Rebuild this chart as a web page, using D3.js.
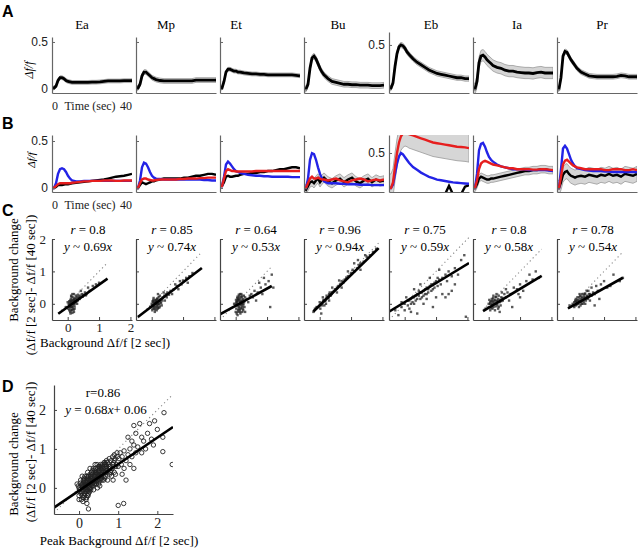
<!DOCTYPE html>
<html>
<head>
<meta charset="utf-8">
<script src="https://cdn.jsdelivr.net/npm/d3@7"></script>
<style>
  body { margin: 0; background: #fff; }
</style>
</head>
<body>
<div id="chart"></div>
<script>
/***********************/
/*    Data (read off)  */
/***********************/
const names = ["Ea", "Mp", "Et", "Bu", "Eb", "Ia", "Pr"];
const times = [0,1,2,3,4,5,6,7,8,9,10,12,14,16,18,20,22,24,26,28,30,32,34,36,38,40];

// Panel A: mean response per group, and its SEM
const aEa = [0.01,0.01,0.03,0.09,0.12,0.12,0.11,0.09,0.08,0.075,0.07,0.07,0.07,0.07,0.07,0.072,0.072,0.075,0.08,0.085,0.085,0.085,0.085,0.088,0.088,0.088];
const aMp = [0.01,0.01,0.05,0.14,0.18,0.18,0.16,0.14,0.12,0.11,0.1,0.09,0.085,0.085,0.085,0.085,0.085,0.085,0.085,0.085,0.095,0.095,0.095,0.095,0.095,0.095];
const aEt = [0.01,0.01,0.08,0.18,0.21,0.21,0.2,0.19,0.19,0.18,0.18,0.17,0.165,0.16,0.16,0.155,0.155,0.15,0.15,0.15,0.15,0.15,0.15,0.15,0.145,0.14];
const aBu = [0,0,0.05,0.22,0.33,0.35,0.32,0.27,0.22,0.18,0.15,0.11,0.08,0.07,0.06,0.05,0.05,0.045,0.045,0.04,0.04,0.04,0.035,0.035,0.035,0.04];
const aEb = [0,0,0.06,0.25,0.4,0.48,0.5,0.49,0.46,0.42,0.39,0.34,0.3,0.27,0.24,0.21,0.19,0.17,0.16,0.15,0.14,0.13,0.12,0.12,0.11,0.11];
const aIa = [0,0,0.08,0.28,0.35,0.36,0.34,0.31,0.29,0.27,0.25,0.23,0.22,0.2,0.19,0.19,0.18,0.175,0.17,0.17,0.165,0.175,0.18,0.17,0.17,0.17];
const aPr = [0,0,0.12,0.35,0.4,0.39,0.35,0.31,0.28,0.25,0.22,0.18,0.16,0.14,0.135,0.13,0.13,0.13,0.13,0.13,0.135,0.145,0.14,0.13,0.13,0.13];
const aSem = [0.02,0.025,0.02,0.03,0.03,0.06,0.025];

// Panel B: blue, red and black traces per group
const bBlue = [
  [0,0,0.05,0.15,0.2,0.21,0.2,0.17,0.13,0.1,0.08,0.07,0.07,0.075,0.075,0.075,0.075,0.075,0.075,0.075,0.075,0.075,0.075,0.075,0.075,0.075],
  [0,0,0.08,0.22,0.27,0.26,0.22,0.17,0.13,0.11,0.1,0.095,0.09,0.09,0.09,0.09,0.09,0.09,0.09,0.09,0.09,0.09,0.085,0.085,0.08,0.08],
  [0.02,0.02,0.12,0.25,0.28,0.26,0.23,0.2,0.18,0.17,0.16,0.15,0.14,0.135,0.13,0.13,0.125,0.125,0.12,0.12,0.12,0.12,0.12,0.115,0.115,0.115],
  [0,0,0.1,0.3,0.37,0.36,0.3,0.22,0.15,0.1,0.07,0.05,0.05,0.05,0.045,0.045,0.04,0.04,0.04,0.035,0.035,0.035,0.03,0.03,0.03,0.03],
  [0,0,0.05,0.2,0.35,0.45,0.5,0.48,0.44,0.4,0.36,0.3,0.26,0.22,0.19,0.16,0.14,0.12,0.11,0.1,0.09,0.08,0.075,0.07,0.065,0.06],
  [0,0,0.15,0.4,0.47,0.48,0.44,0.38,0.33,0.3,0.28,0.25,0.23,0.22,0.21,0.2,0.2,0.2,0.195,0.19,0.19,0.19,0.19,0.19,0.185,0.18],
  [0,0,0.2,0.42,0.45,0.42,0.36,0.3,0.26,0.23,0.21,0.2,0.19,0.185,0.18,0.18,0.18,0.175,0.175,0.17,0.17,0.17,0.17,0.17,0.17,0.17]
];
const bRed = [
  [0,0,0.02,0.04,0.05,0.05,0.05,0.05,0.05,0.05,0.055,0.06,0.065,0.07,0.07,0.075,0.075,0.075,0.08,0.08,0.08,0.075,0.075,0.08,0.08,0.08],
  [0,0,0.05,0.09,0.1,0.1,0.09,0.085,0.08,0.08,0.085,0.09,0.09,0.09,0.09,0.09,0.095,0.095,0.1,0.1,0.1,0.105,0.105,0.11,0.11,0.11],
  [0.02,0.02,0.1,0.18,0.2,0.19,0.18,0.18,0.175,0.175,0.175,0.175,0.175,0.175,0.18,0.18,0.18,0.18,0.18,0.18,0.18,0.18,0.18,0.18,0.18,0.18],
  [0,0,0.05,0.1,0.12,0.1,0.1,0.11,0.1,0.09,0.09,0.08,0.09,0.1,0.08,0.07,0.06,0.08,0.09,0.1,0.09,0.07,0.08,0.09,0.08,0.09],
  [0,0,0.08,0.3,0.5,0.65,0.74,0.78,0.8,0.79,0.77,0.75,0.73,0.71,0.69,0.67,0.65,0.64,0.63,0.62,0.61,0.6,0.59,0.585,0.58,0.57],
  [0,0,0.08,0.2,0.26,0.28,0.29,0.28,0.27,0.26,0.25,0.24,0.23,0.22,0.21,0.21,0.2,0.2,0.2,0.2,0.195,0.195,0.2,0.2,0.195,0.19],
  [0,0,0.12,0.25,0.29,0.3,0.28,0.26,0.24,0.23,0.22,0.21,0.2,0.2,0.2,0.2,0.2,0.19,0.19,0.2,0.2,0.2,0.19,0.19,0.2,0.19]
];
const bBlack = [
  [0,0,0.01,0.03,0.03,0.03,0.035,0.04,0.04,0.045,0.05,0.055,0.06,0.065,0.07,0.075,0.08,0.085,0.09,0.1,0.11,0.12,0.125,0.13,0.14,0.15],
  [0,0,0.03,0.06,0.05,0.04,0.05,0.06,0.07,0.07,0.08,0.09,0.1,0.1,0.1,0.1,0.1,0.11,0.11,0.12,0.13,0.13,0.14,0.15,0.15,0.14],
  [0.02,0.02,0.06,0.12,0.13,0.12,0.12,0.125,0.13,0.13,0.14,0.15,0.15,0.16,0.16,0.17,0.17,0.18,0.18,0.19,0.2,0.2,0.21,0.22,0.22,0.21],
  [0,-0.02,0.02,0.06,0.07,0.05,0.08,0.1,0.06,0.09,0.11,0.07,0.05,0.08,0.1,0.06,0.09,0.11,0.07,0.05,0.08,0.1,0.06,0.09,0.07,0.08],
  [-0.09,-0.09,-0.09,-0.09,-0.09,-0.09,-0.09,-0.09,-0.09,-0.09,-0.09,-0.09,-0.09,-0.09,-0.09,-0.09,-0.09,-0.09,-0.09,-0.09,0.03,-0.09,-0.09,-0.09,0.02,0.04],
  [0,0,0.04,0.1,0.12,0.11,0.1,0.09,0.09,0.1,0.1,0.11,0.12,0.13,0.14,0.15,0.16,0.17,0.18,0.18,0.19,0.19,0.2,0.2,0.19,0.19],
  [0,0,0.06,0.14,0.17,0.18,0.15,0.13,0.12,0.11,0.12,0.13,0.12,0.14,0.13,0.12,0.14,0.13,0.15,0.13,0.14,0.12,0.15,0.14,0.13,0.15]
];
// grey SEM bands in B: which trace, and its SEM
const bBandTrace = ["", "", "", "black", "red", "black", "black"];
const bBandSem = [0, 0, 0, 0.05, 0.2, 0.04, 0.08];

// Panel C: background vs background change, per group
const cEa = [[0.05,-0.05],[0.1,0],[0.12,0.08],[0.15,-0.1],[0.18,0.05],[0.2,0.12],[0.08,0.1],[0.02,-0.15],[0.25,0.1],[0.22,0],[0.3,0.2],[0.28,0.15],[0.14,-0.2],[0.1,0.15],[0.06,0.02],[0.35,0.22],[0.4,0.25],[0.18,-0.05],[0.16,0.2],[0.12,-0.08],[0.24,0.05],[0.32,0.1],[0.45,0.3],[0.5,0.28],[0.55,0.35],[0.6,0.3],[0.2,-0.25],[0.1,-0.2],[0,0.05],[-0.05,-0.1],[0.26,0.25],[0.38,0.15],[0.7,0.4],[0.8,0.55],[0.9,0.6],[1,0.65],[0.15,0.3],[0.3,0],[0.42,0.4],[0.2,0.3],[0.08,-0.12],[0.12,0.22],[0.22,-0.15],[0.65,0.5],[0.05,0.08],
  [0.05,-0.2],[0.08,-0.25],[0.1,0.05],[0.12,-0.1],[0.14,0.1],[0.16,-0.15],[0.18,0],[0.2,0.08],[0.22,-0.08],[0.24,0.18],[0.06,-0.08],[0.09,-0.3],[0.13,0.02],[0.17,0.12],[0.19,-0.18],[0.11,0.25],[0.15,-0.28],[0.21,0.15],[0.27,0.05],[0.04,0],[0.33,0.28],[0.36,0.18],[0.48,0.22],[0.58,0.26]];
const cMp = [[0,0],[0.05,-0.05],[0.1,0.05],[0.15,0.1],[0.2,0],[0.08,-0.15],[0.12,0.12],[0.18,-0.08],[0.25,0.08],[0.3,0.15],[0.22,0.2],[0.03,0.08],[-0.05,-0.1],[0.35,0.2],[0.4,0.25],[0.28,0.05],[0.16,-0.2],[0.45,0.3],[0.5,0.35],[0.55,0.28],[0.6,0.4],[0.7,0.45],[0.8,0.55],[0.75,0.6],[0.9,0.7],[1,0.72],[1.1,0.8],[1.2,0.85],[1.3,0.95],[0.65,0.3],[0.1,-0.25],[0.2,0.3],[0.32,-0.05],[0.06,0.18],[0.14,0],[0.24,-0.12],[0.42,0.1],[0.85,0.45],[0.95,0.6],[0.38,0.35],[0.02,-0.2],[0.18,0.16],[0.26,0.25],[0.48,0.2],[1.15,0.65],
  [0.02,-0.05],[0.04,0.05],[0.06,-0.1],[0.08,0.02],[0.1,-0.08],[0.12,0],[0.14,0.08],[0.16,-0.05],[0.18,0.05],[0.2,-0.12],[0.22,0.1],[0.24,0],[0.26,-0.08],[0.05,0.12],[0.11,-0.18],[0.17,0.15],[0.21,-0.02],[0.27,0.12],[0.03,-0.15],[0.13,-0.12],[0.09,0.1],[0.19,-0.15],[0.3,0.02],[0.34,0.1]];
const cEt = [[0,0],[0.05,0.1],[0.1,-0.1],[0.15,0.05],[0.2,0.2],[0.08,-0.2],[0.12,0.15],[0.18,-0.05],[0.22,0],[0.25,0.1],[0.02,-0.15],[0.06,0.22],[0.14,-0.25],[0.28,-0.1],[0.3,0.2],[0.1,0.28],[0.04,0.05],[0.16,-0.15],[0.2,0.1],[0.24,-0.2],[0.12,0],[0.08,0.12],[0.35,0.15],[0.4,0.05],[0.45,0.25],[0.5,0.3],[0.55,0.2],[0.6,0.4],[0.7,0.35],[0.8,0.5],[0.85,0.3],[0.95,0.6],[1.05,0.7],[1.15,0.9],[1.2,0.5],[0.9,0.8],[1.1,-0.1],[0.65,0.1],[0.3,-0.25],[0.18,0.3],[-0.05,0],[0,-0.25],[0.26,0.25],[0.16,0.2],[0.75,0.65],
  [0.02,0.05],[0.04,-0.05],[0.06,0],[0.08,0.15],[0.1,-0.15],[0.12,0.08],[0.14,-0.02],[0.16,0.1],[0.18,-0.12],[0.2,0.02],[0.22,-0.08],[0.24,0.15],[0.03,-0.3],[0.07,-0.25],[0.11,0.22],[0.15,-0.3],[0.19,0.25],[0.23,-0.15],[0.05,0.18],[0.09,-0.05],[0.13,-0.2],[0.17,0],[0.21,-0.25],[0.01,0.12],[0.25,-0.02],[0.27,0.05],[0.06,-0.35],[0.14,0.3]];
const cBu = [[-0.2,-0.25],[-0.1,-0.1],[0,-0.05],[0.05,0],[0.1,0.05],[0.15,0.1],[0.2,0.15],[0.25,0.2],[0.3,0.3],[0.35,0.25],[0.4,0.35],[0.45,0.4],[0.5,0.45],[0.55,0.5],[0.6,0.55],[0.65,0.6],[0.7,0.7],[0.75,0.65],[0.8,0.75],[0.85,0.8],[0.9,0.85],[1,0.95],[1.05,1.05],[1.1,1],[1.2,1.1],[1.25,1.2],[1.3,1.25],[1.4,1.3],[1.5,1.45],[1.6,1.5],[1.7,1.6],[1.8,1.7],[0.1,0.2],[0.2,0],[0.3,0.1],[0.4,0.5],[0.55,0.35],[0.7,0.5],[0.9,1],[1.1,1.25],[1.3,1.05],[1.45,1.5],[0.05,-0.3],[0.62,0.72],[1.22,1.35],
  [-0.15,-0.15],[-0.05,-0.1],[0,0.05],[0.08,-0.05],[0.12,0.12],[0.18,0.08],[0.22,0.25],[0.28,0.18],[0.32,0.35],[0.38,0.3],[0.02,-0.15],[0.15,-0.05]];
const cEb = [[-0.3,-0.2],[-0.2,-0.35],[-0.1,-0.1],[0,0],[0.1,-0.05],[0.15,0.1],[0.2,0.15],[0.25,0.05],[0.3,0.2],[0.35,0.1],[0.4,0.3],[0.45,0.25],[0.5,0.35],[0.55,0.2],[0.6,0.4],[0.65,0.3],[0.7,0.5],[0.75,0.45],[0.8,0.55],[0.85,0.4],[0.9,0.6],[0.95,0.5],[1,0.7],[1.05,0.55],[1.1,0.75],[1.15,0.6],[1.2,0.8],[1.3,0.9],[1.35,0.7],[1.4,1],[1.5,0.85],[1.6,1.1],[1.7,0.9],[1.8,1.35],[1.9,1.5],[1.2,0.3],[1.3,0.2],[0.9,-0.1],[0.4,-0.3],[0.2,-0.25],[0.6,0],[0.5,0.6],[0.8,0.8],[1,0.2],[1.5,0.4],[1.4,0.3],[0.3,0.45],[0.7,0.15],[1.6,0.6],[1.95,-0.4],[1.1,1.05],[0.05,0.2],
  [0.1,0.1],[0.2,0],[0.25,0.2],[0.35,0.25],[0.4,0.15],[0.45,0.4],[0.55,0.35],[0.6,0.25],[0.65,0.45],[0.75,0.35],[0.85,0.6],[0.95,0.65],[1.05,0.8],[0.3,0],[0.15,-0.15],[0.5,0.15],[0.7,0.3],[0.9,0.45],[-0.1,0.05],[0,-0.2]];
const cIa = [[0,-0.1],[0.05,0],[0.1,-0.05],[0.15,0.05],[0.2,0.1],[0.25,0],[0.3,0.15],[0.35,0.05],[0.4,0.2],[0.1,0.15],[0.2,-0.2],[0.3,-0.15],[0.05,-0.2],[0.15,0.25],[0.25,0.3],[0.45,0.1],[0.5,0.3],[0.55,0.2],[0.6,0.35],[0.7,0.3],[0.8,0.5],[0.9,0.45],[1,0.6],[1.1,0.4],[1.2,0.7],[1.3,0.9],[1.4,0.75],[1.5,1],[1.6,0.8],[0.35,-0.25],[0.18,0],[0.08,0.08],[0.28,0.08],[0.12,-0.15],[0.42,0.35],[0.65,0.1],[0.75,-0.1],[0.22,0.2],[-0.1,-0.15],[0.38,-0.05],[1,0.2],[0.55,0.45],[0.95,0.3],[0.32,0.25],[0.02,0.12],
  [0.05,0.05],[0.1,0],[0.12,0.08],[0.15,-0.1],[0.18,0.12],[0.2,0],[0.22,-0.08],[0.25,0.1],[0.28,-0.05],[0.3,0.05],[0.08,-0.12],[0.14,0.18],[0.24,0.22],[0.32,-0.1],[0.36,0.12],[0.4,0.08],[0.44,0.18],[0,0]];
const cPr = [[-0.1,-0.05],[0,0],[0.05,0.05],[0.1,-0.05],[0.15,0.1],[0.2,0.05],[0.25,0.15],[0.3,0.1],[0.35,0.2],[0.4,0.15],[0.45,0.25],[0.5,0.2],[0.55,0.3],[0.6,0.25],[0.65,0.35],[0.7,0.3],[0.1,0.15],[0.2,-0.1],[0.3,0.3],[0.4,0],[0.5,0.4],[0.15,0.2],[0.25,-0.05],[0.35,0.05],[0.45,0.4],[0.08,0.1],[0.18,0],[0.28,0.22],[0.38,0.3],[0.6,0.5],[0.75,0.55],[0.8,0.4],[0.9,0.6],[1,0.7],[1.1,0.5],[1.2,0.55],[1.3,0.9],[1.5,0.7],[1.6,0.8],[0.7,-0.05],[0.85,0.15],[0.05,-0.1],[0.22,0.3],[0.32,0],[0.55,0.1],
  [0.12,0.05],[0.18,0.12],[0.22,0.08],[0.26,0.05],[0.3,0.18],[0.34,0.12],[0.38,0.2],[0.42,0.1],[0.46,0.22],[0.2,0.2],[0.28,0],[0.14,-0.02],[0.36,0.28],[0.24,0.25],[0.4,0.32],[0.48,0.15],[0.52,0.3],[0.1,0.08]];
const cR = ["0.8", "0.85", "0.64", "0.96", "0.75", "0.8", "0.78"];
const cSlope = [0.69, 0.74, 0.53, 0.94, 0.59, 0.58, 0.54];
const cIntercept = [-0.1, -0.08, -0.06, -0.05, 0.05, -0.12, -0.06];
const cFitRange = [[-0.3,1.27],[-0.44,1.6],[-0.5,1.15],[-0.2,1.88],[-0.5,2.05],[-0.18,1.69],[-0.15,1.6]];

// Panel D: all groups pooled
const dPoints = [
  [0,0],[0.02,-0.1],[0.05,0.05],[0.08,-0.2],[0.1,0.1],[0.12,-0.05],[0.15,0],[0.18,0.15],[0.2,-0.1],[0.22,0.05],
  [0.25,0.2],[0.28,-0.02],[0.3,0.1],[0,-0.2],[0.03,0.12],[0.06,-0.3],[0.09,0],[0.11,0.2],[0.14,-0.15],[0.16,0.08],
  [0.19,-0.25],[0.21,0.25],[0.24,-0.08],[0.27,0.15],[0.29,0.3],[-0.02,0.05],[0.01,-0.05],[0.04,0.2],[0.07,0.08],[0.13,0.25],
  [0.17,-0.05],[0.23,-0.2],[0.26,0],[0.1,-0.35],[0.2,-0.4],[0.15,0.3],[0.05,-0.15],[0.12,0.15],[0.18,-0.3],[0.25,0.1],
  [0.3,0.25],[0.32,0.4],[0.35,0.15],[0.38,0.3],[0.4,0.45],[0.42,0.2],[0.45,0.35],[0.48,0.5],[0.5,0.3],[0.52,0.45],
  [0.55,0.6],[0.58,0.35],[0.6,0.5],[0.33,0.05],[0.36,0.5],[0.39,0.1],[0.41,0.6],[0.44,0.25],[0.47,0],[0.49,0.4],
  [0.51,0.15],[0.54,0.3],[0.57,0.55],[0.59,0.2],[0.34,0.35],[0.37,-0.05],[0.43,0.4],[0.46,0.6],[0.53,0.05],[0.56,0.4],
  [0.31,0.2],[0.4,0.3],[0.45,0.15],[0.5,0.55],[0.55,0.25],[0.35,0.45],[0.62,0.4],[0.65,0.6],[0.68,0.5],[0.7,0.7],
  [0.72,0.45],[0.75,0.6],[0.78,0.35],[0.8,0.55],[0.82,0.7],[0.85,0.5],[0.88,0.65],[0.9,0.4],[0.92,0.75],[0.95,0.6],
  [0.98,0.8],[1,0.55],[0.63,0.2],[0.67,0.3],[0.73,0.2],[0.77,0.75],[0.83,0.3],[0.87,0.2],[0.93,0.35],[0.97,0.9],
  [0.7,0.55],[0.8,0.4],[0.9,0.85],[0.66,0.65],[0.76,0.5],[0.86,0.8],[1.02,0.75],[1.05,0.9],[1.08,0.6],[1.1,0.8],
  [1.15,0.95],[1.2,0.7],[1.25,0.85],[1.3,1],[1.35,0.8],[1.4,1.1],[1.45,0.9],[1.5,1.05],[1.1,0.35],[1.2,0.2],
  [1.3,0.6],[1.4,0.5],[1,-0.45],[1.14,-0.4],[1.4,1.6],[1.45,1.4],[1.55,1.65],[1.6,1.3],[1.25,1.3],[1.15,0.5],
  [1.35,1.2],[1.65,1.2],[1.7,1],[1.75,1.4],[1.8,1.65],[1.85,1.25],[1.93,1.72],[2,1.5],[2.14,1.3],[2.17,1.93],
  [2.14,0.93],[2.38,0.6],[1.9,1.1],[1.6,0.9],[0.24,-0.54],[0,-0.3],[-0.05,0.1],[0.08,0.3],[0.22,0.4],[0.28,0.5],
  [0.15,0.05],[0.18,0.2],[0.2,0.1],[0.22,-0.05],[0.24,0.3],[0.26,0.12],[0.28,0.2],[0.3,0],[0.32,0.15],[0.34,0.25],
  [0.36,0.05],[0.38,0.4],[0.4,0.2],[0.42,0.35],[0.44,0.1],[0.46,0.3],[0.48,0.2],[0.5,0.45],[0.52,0.3],[0.54,0.5],
  [0.56,0.35],[0.58,0.45],[0.6,0.6],[0.62,0.3],[0.64,0.5],[0.66,0.4],[0.68,0.6],[0.7,0.45],[0.72,0.65],[0.74,0.4],
  [0.1,-0.1],[0.12,0.05],[0.14,-0.2],[0.16,0.15],[0.18,-0.1],[0.2,0.3],[0.22,0.15],[0.24,-0.15],[0.26,0.05],[0.28,0.35],
  [0.3,-0.05],[0.32,0.3],[0.34,0.1],[0.36,0.2],[0.38,0.15],[0.4,0.1],[0.42,0.5],[0.44,0.4],[0.46,0.2],[0.48,0.35],
  [0.5,0.1],[0.52,0.55],[0.54,0.2],[0.56,0.5],[0.58,0.25],[0.6,0.35],[0.62,0.55],[0.64,0.65],[0.66,0.25],[0.68,0.4],
  [0.08,0.05],[0.06,-0.1],[0.11,-0.25],[0.13,0.2],[0.17,0],[0.19,0.08],[0.21,-0.2],[0.23,0.22],[0.25,0],[0.27,-0.1],
  [0.78,0.55],[0.82,0.45],[0.86,0.6],[0.9,0.7],[0.94,0.55]
];
const dR = "0.86";
const dSlope = 0.68;
const dIntercept = -0.07;

/****************************/
/*    Layout and styles     */
/****************************/
const width = 640, height = 550;
const colLeft = [52, 136, 220, 304, 389, 473, 557];
const colW = 80;
const titleX = [82, 166, 236, 338, 431, 517, 602];
const serif = "'Liberation Serif', 'Times New Roman', serif";
const sans = "'Liberation Sans', Arial, sans-serif";
const axisGrey = "#666";
const blue = "#2323e6", red = "#e61e1e";

const svg = d3.select("#chart")
  .append("svg")
    .attr("width", width)
    .attr("height", height)
    .style("background", "#fff");

const defs = svg.append("defs");
let clipCount = 0;
const addClip = (x, y, w, h) => {
  const id = "clip" + (clipCount++);
  defs.append("clipPath").attr("id", id)
    .append("rect").attr("x", x).attr("y", y).attr("width", w).attr("height", h);
  return `url(#${id})`;
};

const styleAxis = (g, color, font, size) => {
  g.select(".domain").attr("stroke", color).attr("stroke-width", 1.2);
  g.selectAll(".tick line").attr("stroke", color);
  g.selectAll(".tick text").attr("fill", "#222").style("font-family", font).style("font-size", size + "px");
};

// panel letters
[["A", 17], ["B", 129], ["C", 216], ["D", 392]].forEach(([t, y]) => {
  svg.append("text").text(t)
    .attr("x", 2).attr("y", y)
    .style("font-family", sans).style("font-weight", "bold").style("font-size", "16px");
});

const timeLabel = (x, y) => {
  const g = svg.append("g").style("font-family", serif).style("font-size", "12px").attr("fill", "#222");
  g.append("text").text("0").attr("x", x(0) + 3).attr("y", y).attr("text-anchor", "middle");
  g.append("text").text("Time (sec)").attr("x", x(20) - 2).attr("y", y).attr("text-anchor", "middle");
  g.append("text").text("40").attr("x", x(40) - 6).attr("y", y).attr("text-anchor", "middle");
};

/*************************/
/*    Panel A            */
/*************************/
const aMeans = [aEa, aMp, aEt, aBu, aEb, aIa, aPr];

names.forEach((name, i) => {
  const left = colLeft[i];
  const top = i === 4 ? 32 : 37, bottom = 93;
  const x = d3.scaleLinear().domain([0, 40]).range([left, left + colW]);
  const y = d3.scaleLinear().domain(i === 4 ? [-0.057, 0.65] : [-0.043, 0.553]).range([bottom, top]);
  const g = svg.append("g");
  const plot = g.append("g").attr("clip-path", addClip(left, top, colW, bottom - top));
  const mean = aMeans[i];

  const band = d3.area()
    .x((d, k) => x(times[k]))
    .y0(d => y(d - aSem[i]))
    .y1(d => y(d + aSem[i]));
  plot.append("path").datum(mean)
    .attr("d", band).attr("fill", "#d4d4d4").attr("stroke", "#9a9a9a").attr("stroke-width", 0.8);
  plot.append("path").datum(mean)
    .attr("d", d3.line().x((d, k) => x(times[k])).y(d => y(d)))
    .attr("fill", "none").attr("stroke", "#000").attr("stroke-width", 2.8);

  const showLabels = i === 0 || i === 4;
  g.append("g").attr("transform", `translate(${left},0)`)
    .call(d3.axisLeft(y).tickValues(i === 4 ? [0.5] : [0, 0.5]).tickSize(-3).tickSizeOuter(0).tickPadding(4)
      .tickFormat(d => showLabels ? d3.format("")(d) : ""))
    .call(a => styleAxis(a, axisGrey, sans, 12));
  g.append("g").attr("transform", `translate(0,${bottom})`)
    .call(d3.axisBottom(x).tickValues([]).tickSizeOuter(0))
    .call(a => styleAxis(a, axisGrey, sans, 12));

  svg.append("text").text(name)
    .attr("x", titleX[i]).attr("y", 29).attr("text-anchor", "middle")
    .style("font-family", serif).style("font-size", "13px");

  if (i === 0) timeLabel(x, 110);
});

svg.append("text").text("Δf/f")
  .attr("transform", "translate(33,70) rotate(-90)").attr("text-anchor", "middle")
  .style("font-family", serif).style("font-style", "italic").style("font-size", "12px");

/*************************/
/*    Panel B            */
/*************************/
names.forEach((name, i) => {
  const left = colLeft[i];
  const top = 135, bottom = 192;
  const x = d3.scaleLinear().domain([0, 40]).range([left, left + colW]);
  const y = d3.scaleLinear().domain(i === 4 ? [-0.057, 0.757] : [-0.043, 0.564]).range([bottom, top]);
  const g = svg.append("g");
  const plot = g.append("g").attr("clip-path", addClip(left, top, colW, bottom - top));
  const traces = { blue: bBlue[i], red: bRed[i], black: bBlack[i] };

  if (bBandTrace[i]) {
    const sem = bBandSem[i];
    plot.append("path").datum(traces[bBandTrace[i]])
      .attr("d", d3.area().x((d, k) => x(times[k])).y0(d => y(d - sem)).y1(d => y(d + sem)))
      .attr("fill", "#d6d6d6").attr("stroke", "#999").attr("stroke-width", 0.8);
  }
  const line = d3.line().x((d, k) => x(times[k])).y(d => y(d));
  [["black", "#000"], ["blue", blue], ["red", red]].forEach(([key, color]) => {
    plot.append("path").datum(traces[key])
      .attr("d", line).attr("fill", "none").attr("stroke", color).attr("stroke-width", 2.4);
  });

  const showLabels = i === 0 || i === 4;
  g.append("g").attr("transform", `translate(${left},0)`)
    .call(d3.axisLeft(y).tickValues(i === 4 ? [0.5] : [0, 0.5]).tickSize(-3).tickSizeOuter(0).tickPadding(4)
      .tickFormat(d => showLabels ? d3.format("")(d) : ""))
    .call(a => styleAxis(a, axisGrey, sans, 12));
  g.append("g").attr("transform", `translate(0,${bottom})`)
    .call(d3.axisBottom(x).tickValues([]).tickSizeOuter(0))
    .call(a => styleAxis(a, axisGrey, sans, 12));

  if (i === 0) timeLabel(x, 209);
});

svg.append("text").text("Δf/f")
  .attr("transform", "translate(35,160) rotate(-90)").attr("text-anchor", "middle")
  .style("font-family", serif).style("font-style", "italic").style("font-size", "11px");

/*************************/
/*    Panel C            */
/*************************/
const cPoints = [cEa, cMp, cEt, cBu, cEb, cIa, cPr];

names.forEach((name, i) => {
  const left = colLeft[i];
  const top = 239, bottom = 320;
  const x = d3.scaleLinear().domain([-0.5, 2.05]).range([left, left + colW]);
  const y = d3.scaleLinear().domain([-0.5, 2]).range([bottom, top]);
  const g = svg.append("g");
  const plot = g.append("g").attr("clip-path", addClip(left, top - 10, colW, bottom - top + 10));
  const [x0, x1] = cFitRange[i];

  plot.append("line")
    .attr("x1", x(x0)).attr("y1", y(x0)).attr("x2", x(x1)).attr("y2", y(x1))
    .attr("stroke", "#888").attr("stroke-width", 1.1).attr("stroke-dasharray", "1.2,3");
  plot.selectAll("rect.pt").data(cPoints[i]).join("rect")
    .attr("class", "pt")
    .attr("x", d => x(d[0]) - 1.2).attr("y", d => y(d[1]) - 1.2)
    .attr("width", 2.4).attr("height", 2.4)
    .attr("fill", "#222").attr("opacity", 0.75);
  plot.append("line")
    .attr("x1", x(x0)).attr("y1", y(cSlope[i] * x0 + cIntercept[i]))
    .attr("x2", x(x1)).attr("y2", y(cSlope[i] * x1 + cIntercept[i]))
    .attr("stroke", "#000").attr("stroke-width", 2.6);

  const first = i === 0;
  g.append("g").attr("transform", `translate(${left},0)`)
    .call(d3.axisLeft(y).tickValues([0, 1, 2]).tickSize(-3).tickSizeOuter(0).tickPadding(6)
      .tickFormat(d => first ? d3.format("")(d) : ""))
    .call(a => styleAxis(a, "#444", serif, 13));
  g.append("g").attr("transform", `translate(0,${bottom})`)
    .call(d3.axisBottom(x).tickValues([0, 1, 2]).tickSize(-3).tickSizeOuter(0).tickPadding(3)
      .tickFormat(d => first ? d3.format("")(d) : ""))
    .call(a => styleAxis(a, "#444", serif, 13));

  const tx = left + colW / 2 - 4;
  const t1 = svg.append("text").attr("x", tx).attr("y", 234).attr("text-anchor", "middle")
    .style("font-family", serif).style("font-size", "13px");
  t1.append("tspan").text("r").style("font-style", "italic");
  t1.append("tspan").text(" = " + cR[i]);
  const t2 = svg.append("text").attr("x", tx).attr("y", 251).attr("text-anchor", "middle")
    .style("font-family", serif).style("font-size", "13px");
  t2.append("tspan").text("y").style("font-style", "italic");
  t2.append("tspan").text(" ~ " + cSlope[i]);
  t2.append("tspan").text("x").style("font-style", "italic");
});

const yLabel2 = (cx, cy1, cy2, lines) => {
  svg.append("text").text(lines[0])
    .attr("transform", `translate(${cx[0]},${cy1}) rotate(-90)`).attr("text-anchor", "middle")
    .style("font-family", serif).style("font-size", "13px");
  svg.append("text").text(lines[1])
    .attr("transform", `translate(${cx[1]},${cy2}) rotate(-90)`).attr("text-anchor", "middle")
    .style("font-family", serif).style("font-size", "13px");
};
yLabel2([18, 35], 270, 285, ["Background change", "(Δf/f [2 sec]- Δf/f [40 sec])"]);
svg.append("text").text("Background Δf/f [2 sec])")
  .attr("x", 105).attr("y", 347).attr("text-anchor", "middle")
  .style("font-family", serif).style("font-size", "13px");

/*************************/
/*    Panel D            */
/*************************/
{
  const left = 54, right = 173, top = 385, bottom = 514;
  const x = d3.scaleLinear().domain([-0.64, 2.4]).range([left, right]);
  const y = d3.scaleLinear().domain([-0.67, 2.64]).range([bottom, top]);
  const g = svg.append("g");
  const plot = g.append("g").attr("clip-path", addClip(left, top, right - left, bottom - top));

  plot.append("line")
    .attr("x1", x(-0.64)).attr("y1", y(-0.64)).attr("x2", x(2.4)).attr("y2", y(2.4))
    .attr("stroke", "#888").attr("stroke-width", 1.1).attr("stroke-dasharray", "1.2,3");
  plot.selectAll("circle").data(dPoints).join("circle")
    .attr("cx", d => x(d[0])).attr("cy", d => y(d[1])).attr("r", 2.2)
    .attr("fill", "none").attr("stroke", "#222").attr("stroke-width", 0.9);
  plot.append("line")
    .attr("x1", x(-0.64)).attr("y1", y(dSlope * -0.64 + dIntercept))
    .attr("x2", x(2.4)).attr("y2", y(dSlope * 2.4 + dIntercept))
    .attr("stroke", "#000").attr("stroke-width", 2.6);

  g.append("g").attr("transform", `translate(${left},0)`)
    .call(d3.axisLeft(y).tickValues([0, 1, 2]).tickSize(-3).tickSizeOuter(0).tickPadding(8)
      .tickFormat(d3.format("")))
    .call(a => styleAxis(a, "#444", serif, 14));
  g.append("g").attr("transform", `translate(0,${bottom})`)
    .call(d3.axisBottom(x).tickValues([0, 1, 2]).tickSize(-3).tickSizeOuter(0).tickPadding(4)
      .tickFormat(d3.format("")))
    .call(a => styleAxis(a, "#444", serif, 14));

  const t1 = svg.append("text").attr("x", 103).attr("y", 397).attr("text-anchor", "middle")
    .style("font-family", serif).style("font-size", "13px");
  t1.append("tspan").text("r=" + dR);
  const t2 = svg.append("text").attr("x", 106).attr("y", 414).attr("text-anchor", "middle")
    .style("font-family", serif).style("font-size", "13px");
  t2.append("tspan").text("y").style("font-style", "italic");
  t2.append("tspan").text(" = " + dSlope);
  t2.append("tspan").text("x").style("font-style", "italic");
  t2.append("tspan").text("+ 0.06");

  yLabel2([18, 35], 464, 452, ["Background change", "(Δf/f [2 sec]- Δf/f [40 sec])"]);
  svg.append("text").text("Peak Background Δf/f [2 sec])")
    .attr("x", 119).attr("y", 545).attr("text-anchor", "middle")
    .style("font-family", serif).style("font-size", "13px");
}
</script>
</body>
</html>
